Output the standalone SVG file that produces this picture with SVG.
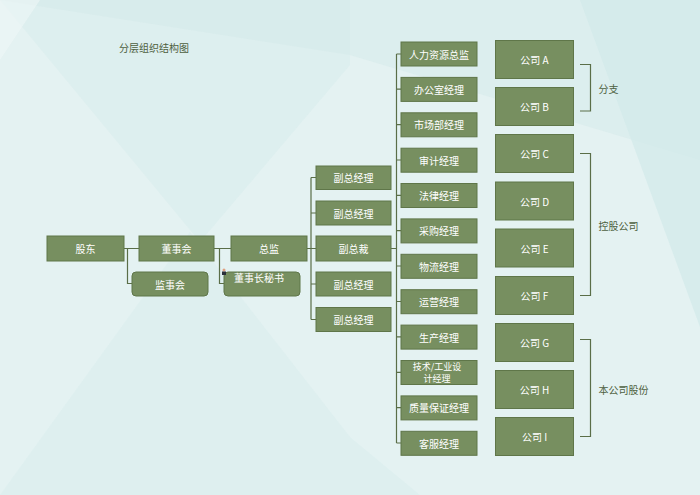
<svg xmlns="http://www.w3.org/2000/svg" width="700" height="495" viewBox="0 0 700 495">
<style>
.n{fill:#778f60;stroke:#5f7649;stroke-width:1}
.t{fill:#ffffff;font-family:"Noto Sans CJK SC","Noto Sans",sans-serif;font-size:10px;text-anchor:middle;dominant-baseline:central}
.s{font-size:9px}
.l{fill:#4d6040;font-family:"Noto Sans CJK SC","Noto Sans",sans-serif;font-size:10px;dominant-baseline:central}
.c{fill:none;stroke:#5a6e48;stroke-width:1.2}
</style>
<g id="background">
<rect x="0" y="0" width="700" height="495" fill="#e4f2f2"/>
<polygon points="0,0 350,0 350,65 200,242" fill="#d9ecec" opacity="0.6"/>
<polygon points="0,0 700,0 700,160 350,55" fill="#d3e9e9" opacity="0.5"/>
<polygon points="190,232 350,437 350,495 0,495" fill="#d8ecec" opacity="0.55"/>
<polygon points="350,437 420,495 350,495" fill="#d8ecec" opacity="0.55"/>
<polygon points="580,0 700,0 700,327" fill="#d2e9e9" opacity="0.7"/>
<polygon points="0,0 40,0 0,60" fill="#eef7f7" opacity="0.6"/>
</g>
<text class="l" x="119" y="47.5">分层组织结构图</text>
<g id="connectors">
<path class="c" d="M124,248.5H139 M127.5,248.5V283.5H132"/>
<path class="c" d="M214,248.5H231 M219.5,248.5V283.5H224"/>
<path class="c" d="M307,248.5H316 M311,177.5V319.5 M311,177.5H316 M311,213H316 M311,284H316 M311,319.5H316"/>
<path class="c" d="M391,248.5H396.5 M396.5,54V443 M396.5,54H401 M396.5,89.2H401 M396.5,124.6H401 M396.5,160H401 M396.5,195.3H401 M396.5,230.7H401 M396.5,266H401 M396.5,301.5H401 M396.5,336.9H401 M396.5,372.3H401 M396.5,407.7H401 M396.5,443H401"/>
<path class="c" d="M580,64.5H590.5V111H580"/>
<path class="c" d="M580,153.5H590.5V295.5H580"/>
<path class="c" d="M580,339.5H590.5V436.5H580"/>
</g>
<g id="n-gudong"><rect class="n" x="47" y="236" width="77" height="25"/><text class="t" x="85.5" y="248.5">股东</text></g>
<g id="n-dongshihui"><rect class="n" x="139" y="236" width="75" height="25"/><text class="t" x="176.5" y="248.5">董事会</text></g>
<g id="n-zongjian"><rect class="n" x="231" y="236" width="76" height="25"/><text class="t" x="269" y="248.5">总监</text></g>
<g id="n-jianshihui"><rect class="n" x="132" y="272" width="76" height="24" rx="4"/><text class="t" x="170" y="284">监事会</text></g>
<g id="n-mishu"><rect class="n" x="224" y="272" width="76" height="24" rx="4"/><text class="t" x="259" y="277.5">董事长秘书</text>
<circle cx="224" cy="270" r="1.5" fill="#e0a080"/><rect x="222" y="271.5" width="4" height="3.5" fill="#2a2f3a"/></g>
<g id="n-fu1"><rect class="n" x="316" y="166" width="75" height="23.5"/><text class="t" x="353.5" y="177.8">副总经理</text></g>
<g id="n-fu2"><rect class="n" x="316" y="201" width="75" height="24"/><text class="t" x="353.5" y="213">副总经理</text></g>
<g id="n-fuzongcai"><rect class="n" x="316" y="236" width="75" height="25"/><text class="t" x="353.5" y="248.5">副总裁</text></g>
<g id="n-fu3"><rect class="n" x="316" y="272" width="75" height="24"/><text class="t" x="353.5" y="284">副总经理</text></g>
<g id="n-fu4"><rect class="n" x="316" y="307.5" width="75" height="24"/><text class="t" x="353.5" y="319.5">副总经理</text></g>
<g id="n-m1"><rect class="n" x="401" y="42" width="76" height="24"/><text class="t" x="439" y="54">人力资源总监</text></g>
<g id="n-m2"><rect class="n" x="401" y="77.4" width="76" height="24"/><text class="t" x="439" y="89.4">办公室经理</text></g>
<g id="n-m3"><rect class="n" x="401" y="112.8" width="76" height="24"/><text class="t" x="439" y="124.8">市场部经理</text></g>
<g id="n-m4"><rect class="n" x="401" y="148.2" width="76" height="24"/><text class="t" x="439" y="160.2">审计经理</text></g>
<g id="n-m5"><rect class="n" x="401" y="183.5" width="76" height="24"/><text class="t" x="439" y="195.5">法律经理</text></g>
<g id="n-m6"><rect class="n" x="401" y="218.9" width="76" height="24"/><text class="t" x="439" y="230.9">采购经理</text></g>
<g id="n-m7"><rect class="n" x="401" y="254.3" width="76" height="24"/><text class="t" x="439" y="266.3">物流经理</text></g>
<g id="n-m8"><rect class="n" x="401" y="289.7" width="76" height="24"/><text class="t" x="439" y="301.7">运营经理</text></g>
<g id="n-m9"><rect class="n" x="401" y="325.1" width="76" height="24"/><text class="t" x="439" y="337.1">生产经理</text></g>
<g id="n-m10"><rect class="n" x="401" y="360.5" width="76" height="24"/><text class="t s" x="437" y="366.5">技术/工业设</text><text class="t s" x="437" y="378.2">计经理</text></g>
<g id="n-m11"><rect class="n" x="401" y="395.9" width="76" height="24"/><text class="t" x="439" y="407.9">质量保证经理</text></g>
<g id="n-m12"><rect class="n" x="401" y="431.3" width="76" height="24"/><text class="t" x="439" y="443.3">客服经理</text></g>
<g id="n-ca"><rect class="n" x="495.5" y="40.5" width="78" height="38"/><text class="t" x="534.5" y="59.5">公司 A</text></g>
<g id="n-cb"><rect class="n" x="495.5" y="87.5" width="78" height="38"/><text class="t" x="534.5" y="106.5">公司 B</text></g>
<g id="n-cc"><rect class="n" x="495.5" y="134.5" width="78" height="38"/><text class="t" x="534.5" y="153.5">公司 C</text></g>
<g id="n-cd"><rect class="n" x="495.5" y="182" width="78" height="38"/><text class="t" x="534.5" y="201">公司 D</text></g>
<g id="n-ce"><rect class="n" x="495.5" y="229" width="78" height="38"/><text class="t" x="534.5" y="248">公司 E</text></g>
<g id="n-cf"><rect class="n" x="495.5" y="276.5" width="78" height="38"/><text class="t" x="534.5" y="295.5">公司 F</text></g>
<g id="n-cg"><rect class="n" x="495.5" y="323.5" width="78" height="38"/><text class="t" x="534.5" y="342.5">公司 G</text></g>
<g id="n-ch"><rect class="n" x="495.5" y="370.5" width="78" height="38"/><text class="t" x="534.5" y="389.5">公司 H</text></g>
<g id="n-ci"><rect class="n" x="495.5" y="417.5" width="78" height="38"/><text class="t" x="534.5" y="436.5">公司 I</text></g>
<text class="l" x="598.5" y="88">分支</text>
<text class="l" x="598.5" y="225">控股公司</text>
<text class="l" x="598.5" y="389">本公司股份</text>
</svg>
